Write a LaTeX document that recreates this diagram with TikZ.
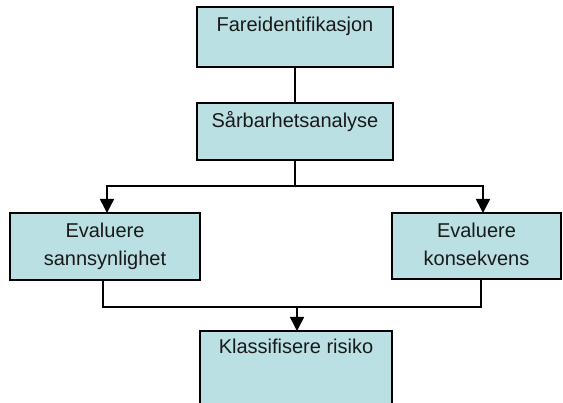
\documentclass[tikz,border=0pt]{standalone}
\usepackage{fontspec}
\setmainfont{Liberation Sans}
\usetikzlibrary{arrows.meta,calc}
\definecolor{boxfill}{RGB}{187,224,227}
\begin{document}
\begin{tikzpicture}[x=1pt,y=-1pt,
  box/.style={draw=black, line width=1.6pt, fill=boxfill, inner sep=0pt, outer sep=0pt},
  txt/.style={anchor=north, inner sep=0pt, align=center, font=\fontsize{20}{28}\selectfont, text=black!90},
  conn/.style={draw=black, line width=1.6pt},
  arr/.style={conn, -{Triangle[width=14pt,length=14pt]}}]
\useasboundingbox (0,0) rectangle (563,403);
% boxes
\node[box, minimum width=196pt, minimum height=60pt] (fare) at (295,37) {};
\node[box, minimum width=196pt, minimum height=57pt] (sarb) at (295,131.5) {};
\node[box, minimum width=190pt, minimum height=67pt] (evs) at (105,246.5) {};
\node[box, minimum width=169pt, minimum height=66pt] (evk) at (476.5,246) {};
\node[box, minimum width=192pt, minimum height=90pt] (klas) at (296,376) {};
% texts
\node[txt] (farelbl) at ($(fare.north)+(0,4.6)$) {\strut Fareidentifikasjon};
\node[txt] (sarblbl) at ($(sarb.north)+(0,4.6)$) {\strut Sårbarhetsanalyse};
\node[txt] (evslbl) at ($(evs.north)+(0,4.4)$) {\strut Evaluere\\\strut sannsynlighet};
\node[txt] (evklbl) at ($(evk.north)+(0,4.4)$) {\strut Evaluere\\\strut konsekvens};
\node[txt] (klaslbl) at ($(klas.north)+(0,2.6)$) {\strut Klassifisere risiko};
% connectors
\coordinate (split) at ($(sarb.south)+(0,26)$);
\coordinate (join) at ($(klas.north)+(1,-24)$);
\draw[conn] (fare.south) -- (sarb.north);
\draw[conn] (sarb.south) -- (split);
\draw[arr] (split) -| ([xshift=2pt]evs.north);
\draw[arr] (split) -| ([xshift=6.5pt]evk.north);
\draw[conn] ([xshift=-2pt]evs.south) |- (join) -| ([xshift=4.5pt]evk.south);
\draw[arr] (join) -- ([xshift=1pt]klas.north);
\end{tikzpicture}
\end{document}
